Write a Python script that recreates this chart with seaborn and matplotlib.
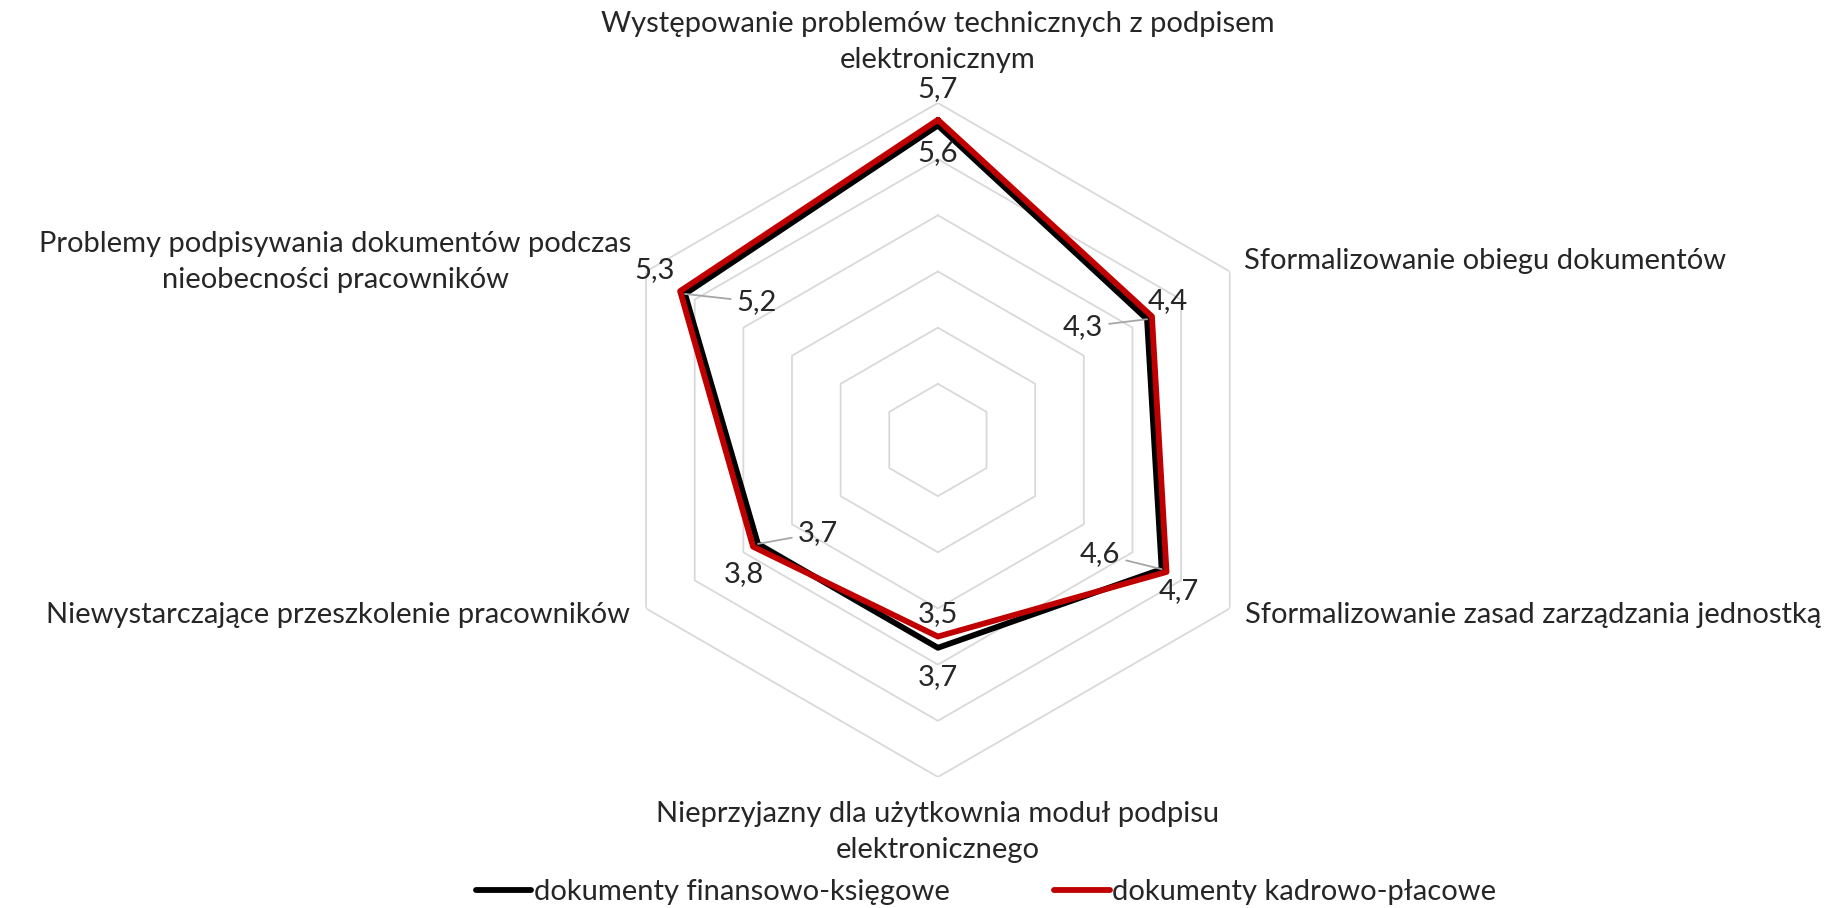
import numpy as np
import pandas as pd
import seaborn as sns
from matplotlib import pyplot as plt

categories = ['Występowanie problemów technicznych z podpisem\nelektronicznym',
              'Sformalizowanie obiegu dokumentów',
              'Sformalizowanie zasad zarządzania jednostką',
              'Nieprzyjazny dla użytkownia moduł podpisu\nelektronicznego',
              'Niewystarczające przeszkolenie pracowników',
              'Problemy podpisywania dokumentów podczas\nnieobecności pracowników']
series = ['dokumenty finansowo-księgowe', 'dokumenty kadrowo-płacowe']
fin_ksieg = [5.6, 4.3, 4.6, 3.7, 3.7, 5.2]
kadr_plac = [5.7, 4.4, 4.7, 3.5, 3.8, 5.3]
colors = ['#000000', '#c00000']

sns.set_style('white')
plt.rcParams['font.family'] = ['Lato', 'DejaVu Sans']
FS = 21

n = len(categories)
theta = np.linspace(0, 2 * np.pi, n + 1)   # closed loop

rows = []
for name, vals in zip(series, [fin_ksieg, kadr_plac]):
    for t, v in zip(theta, vals + vals[:1]):
        rows.append({'theta': t, 'value': v, 'seria': name})
df = pd.DataFrame(rows)

fig = plt.figure(figsize=(18.45, 9.08), dpi=100)
ax = fig.add_axes([0.3257, 0.1443, 0.3653, 0.7423], projection='polar')
ax.set_theta_offset(np.pi / 2)
ax.set_theta_direction(-1)
ax.set_ylim(0, 6)
ax.grid(False)
ax.spines['polar'].set_visible(False)
ax.set_xticks([])
ax.set_yticks([])
ax.patch.set_alpha(0)

# hexagonal grid rings
for r in range(1, 7):
    ax.plot(theta, [r] * (n + 1), color='#d9d9d9', lw=1.3, zorder=1)

sns.lineplot(data=df, x='theta', y='value', hue='seria', palette=colors,
             sort=False, estimator=None, lw=4.2, ax=ax, legend=False, zorder=3)


def fp(x, y):
    return (x / 1845, 1 - y / 908)


# category labels
fig.text(*fp(938, 42), categories[0], ha='center', va='center', fontsize=FS, linespacing=1.5)
fig.text(*fp(1244, 261), categories[1], ha='left', va='center', fontsize=FS)
fig.text(*fp(1245, 615), categories[2], ha='left', va='center', fontsize=FS)
fig.text(*fp(938, 832), categories[3], ha='center', va='center', fontsize=FS, linespacing=1.5)
fig.text(*fp(630, 615), categories[4], ha='right', va='center', fontsize=FS)
fig.text(*fp(335, 262), categories[5], ha='center', va='center', fontsize=FS, linespacing=1.5)

# data labels: (series, index) -> label pos, leader line
lab_pos = {
    (1, 0): (938, 89, False), (0, 0): (938, 153, False),
    (1, 1): (1168, 301, False), (0, 1): (1083, 327, True),
    (1, 2): (1179, 591, False), (0, 2): (1100, 554, True),
    (1, 3): (938, 614, False), (0, 3): (938, 677, False),
    (1, 4): (744, 574, False), (0, 4): (818, 533, True),
    (1, 5): (655, 270, False), (0, 5): (757, 302, True),
}
all_vals = [fin_ksieg, kadr_plac]
for (s, i), (x, y, leader) in lab_pos.items():
    v = all_vals[s][i]
    txt = f'{v:.1f}'.replace('.', ',')
    props = dict(arrowstyle='-', color='#a6a6a6', lw=1.3, shrinkA=2, shrinkB=0) if leader else None
    ax.annotate(txt, xy=(theta[i], v), xytext=fp(x, y), textcoords='figure fraction',
                ha='center', va='center', fontsize=FS, arrowprops=props, zorder=5,
                annotation_clip=False)

handles = [plt.Line2D([], [], color=c, lw=4.2) for c in colors]
fig.legend(handles, series, loc='center', bbox_to_anchor=fp(986, 892), ncol=2,
           frameon=False, fontsize=FS, handlelength=1.9, handletextpad=0.08,
           columnspacing=3.6, borderpad=0)

fig.savefig('out.png', dpi=100)
